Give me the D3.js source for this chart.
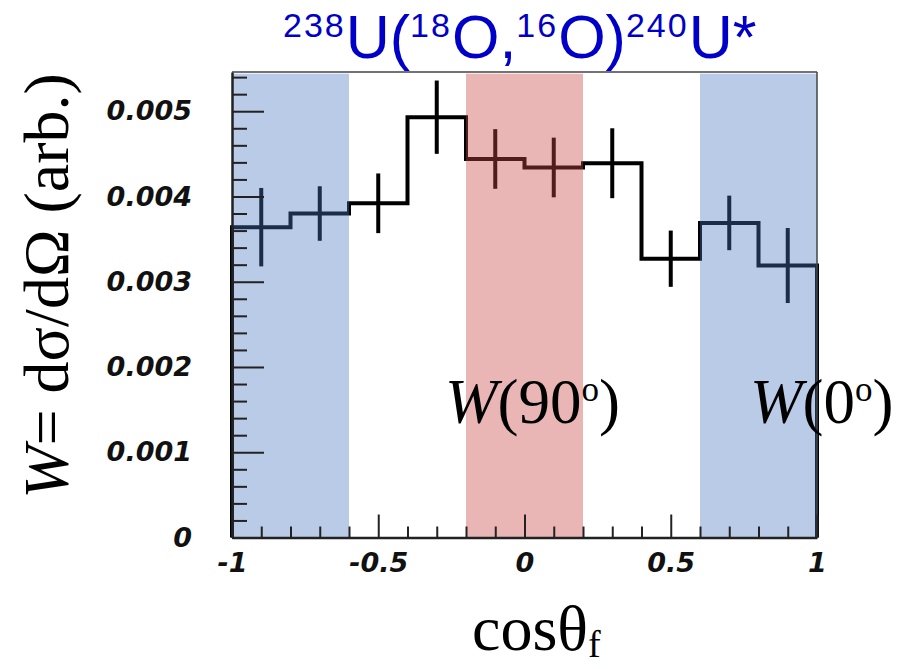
<!DOCTYPE html>
<html>
<head>
<meta charset="utf-8">
<script src="https://cdn.jsdelivr.net/npm/d3@7"></script>
<style>
  body { margin: 0; background: #fff; }
  svg { display: block; }
</style>
</head>
<body>
<div id="chart"></div>
<script>
// Data
const binCenters = [-0.9, -0.7, -0.5, -0.3, -0.1, 0.1, 0.3, 0.5, 0.7, 0.9];
const binWidth = 0.2;
const values = [0.00364, 0.00380, 0.00392, 0.00493, 0.00444, 0.00434, 0.00439, 0.00327, 0.00369, 0.00319];
const errors = [0.00046, 0.00032, 0.00035, 0.00043, 0.00035, 0.00035, 0.00041, 0.00033, 0.00032, 0.00044];

const blueBands = [[-1, -0.6], [0.6, 1]];
const redBands = [[-0.2, 0.2]];

const xTickLabels = [-1, -0.5, 0, 0.5, 1];
const yTickLabels = [0, 0.001, 0.002, 0.003, 0.004, 0.005];

// Dimensions
const width = 910;
const height = 669;
const margin = { top: 72, right: 93, bottom: 131, left: 232 };

const svg = d3.select("#chart").append("svg")
  .attr("width", width)
  .attr("height", height);

// Scales
const x = d3.scaleLinear()
  .domain([-1, 1])
  .range([margin.left, width - margin.right]);

const y = d3.scaleLinear()
  .domain([0, 0.00546])
  .range([height - margin.bottom - 0.5, margin.top]);

// Histogram step line
const points = [{ x: -1, y: 0 }];
binCenters.forEach((c, i) => {
  points.push({ x: c - binWidth / 2, y: values[i] });
  points.push({ x: c + binWidth / 2, y: values[i] });
});
points.push({ x: 1, y: 0 });

const line = d3.line()
  .x(d => x(d.x))
  .y(d => y(d.y));

svg.append("path")
  .datum(points)
  .attr("fill", "none")
  .attr("stroke", "#000")
  .attr("stroke-width", 4)
  .attr("stroke-linejoin", "miter")
  .attr("d", line);

// Error bars
svg.selectAll(".err")
  .data(binCenters)
  .enter()
  .append("line")
    .attr("class", "err")
    .attr("x1", d => x(d))
    .attr("x2", d => x(d))
    .attr("y1", (d, i) => y(values[i] - errors[i]))
    .attr("y2", (d, i) => y(values[i] + errors[i]))
    .attr("stroke", "#000")
    .attr("stroke-width", 4);

// Shaded bands (translucent, over the histogram)
const bandTop = y.domain()[1] - 0.00002;
svg.selectAll(".blue")
  .data(blueBands)
  .enter()
  .append("rect")
    .attr("x", d => x(d[0]))
    .attr("width", d => x(d[1]) - x(d[0]))
    .attr("y", y(bandTop))
    .attr("height", y(0) - y(bandTop))
    .attr("fill", "rgba(72,118,192,0.38)");

svg.selectAll(".red")
  .data(redBands)
  .enter()
  .append("rect")
    .attr("x", d => x(d[0]))
    .attr("width", d => x(d[1]) - x(d[0]))
    .attr("y", y(bandTop))
    .attr("height", y(0) - y(bandTop))
    .attr("fill", "rgba(200,70,70,0.40)");

// Frame (top and right)
svg.append("line")
  .attr("x1", x(-1)).attr("x2", x(1))
  .attr("y1", y.range()[1]).attr("y2", y.range()[1])
  .attr("stroke", "#444").attr("stroke-width", 1.5);
svg.append("line")
  .attr("x1", x(1)).attr("x2", x(1))
  .attr("y1", y.range()[1]).attr("y2", y(0))
  .attr("stroke", "#444").attr("stroke-width", 1.5);

// Axes
const tickFont = "'DejaVu Sans', sans-serif";

const xMinor = d3.range(-10, 11).map(i => i / 10).filter(v => Math.abs(v * 2 % 1) > 1e-6);
svg.append("g")
  .attr("transform", `translate(0, ${y(0)})`)
  .call(d3.axisBottom(x).tickValues(xMinor).tickSize(-11).tickFormat(""))
  .call(g => g.select(".domain").remove())
  .selectAll("line").attr("stroke", "#222").attr("stroke-width", 2);

const xAxis = svg.append("g")
  .attr("transform", `translate(0, ${y(0)})`)
  .call(d3.axisBottom(x).tickValues(xTickLabels).tickSize(-23).tickSizeOuter(0)
    .tickPadding(15).tickFormat(d => String(d)));
xAxis.select(".domain").attr("stroke", "#222").attr("stroke-width", 2.5);
xAxis.selectAll("line").attr("stroke", "#222").attr("stroke-width", 2);
xAxis.selectAll("text")
  .attr("font-family", tickFont)
  .attr("font-size", 27)
  .attr("font-weight", "bold")
  .attr("font-style", "italic")
  .attr("fill", "#111");

const yMinor = d3.range(0, 28).map(i => i * 0.0002).filter(v => Math.round(v * 10000) % 10 !== 0);
svg.append("g")
  .attr("transform", `translate(${x(-1)}, 0)`)
  .call(d3.axisLeft(y).tickValues(yMinor).tickSize(-15).tickFormat(""))
  .call(g => g.select(".domain").remove())
  .selectAll("line").attr("stroke", "#222").attr("stroke-width", 2);

const yAxis = svg.append("g")
  .attr("transform", `translate(${x(-1)}, 0)`)
  .call(d3.axisLeft(y).tickValues(yTickLabels).tickSize(-32).tickSizeOuter(0)
    .tickPadding(40).tickFormat(d => String(d)));
yAxis.select(".domain").attr("stroke", "#222").attr("stroke-width", 2.5);
yAxis.selectAll("line").attr("stroke", "#222").attr("stroke-width", 2);
yAxis.selectAll("text")
  .attr("font-family", tickFont)
  .attr("font-size", 27)
  .attr("font-weight", "bold")
  .attr("font-style", "italic")
  .attr("fill", "#111");

// Title
const title = svg.append("text")
  .attr("x", 283)
  .attr("y", 58)
  .attr("font-family", "'Liberation Sans', Arial, sans-serif")
  .attr("font-size", 61)
  .attr("fill", "#0000c8");
const titleParts = [["238", true], ["U(", false], ["18", true], ["O,", false],
  ["16", true], ["O)", false], ["240", true], ["U*", false]];
titleParts.forEach(([t, sup], i) => {
  title.append("tspan")
    .attr("font-size", sup ? 34 : 61)
    .attr("letter-spacing", sup ? 2 : 0)
    .attr("dy", sup ? (i === 0 ? -21 : -21) : 21)
    .text(t);
});

// Axis labels
const serif = "'Liberation Serif', 'Times New Roman', serif";

const yLabel = svg.append("text")
  .attr("transform", "translate(68, 286) rotate(-90)")
  .attr("text-anchor", "middle")
  .attr("font-family", serif)
  .attr("font-size", 64)
  .attr("fill", "#000");
yLabel.append("tspan").attr("font-style", "italic").text("W");
yLabel.append("tspan").text("= dσ/dΩ (arb.)");

const xLabel = svg.append("text")
  .attr("x", 472)
  .attr("y", 650)
  .attr("font-family", serif)
  .attr("font-size", 64)
  .attr("fill", "#000");
xLabel.append("tspan").text("cosθ");
xLabel.append("tspan").attr("font-size", 38).attr("dy", 7).text("f");

// Annotations
function annotate(xPos, deg) {
  const t = svg.append("text")
    .attr("x", xPos)
    .attr("y", 423)
    .attr("font-family", serif)
    .attr("font-size", 63)
    .attr("fill", "#000");
  t.append("tspan").attr("font-style", "italic").text("W");
  t.append("tspan").text("(" + deg);
  t.append("tspan").attr("font-size", 35).attr("dy", -22).text("o");
  t.append("tspan").attr("dy", 22).text(")");
}
annotate(445, "90");
annotate(750, "0");
</script>
</body>
</html>
